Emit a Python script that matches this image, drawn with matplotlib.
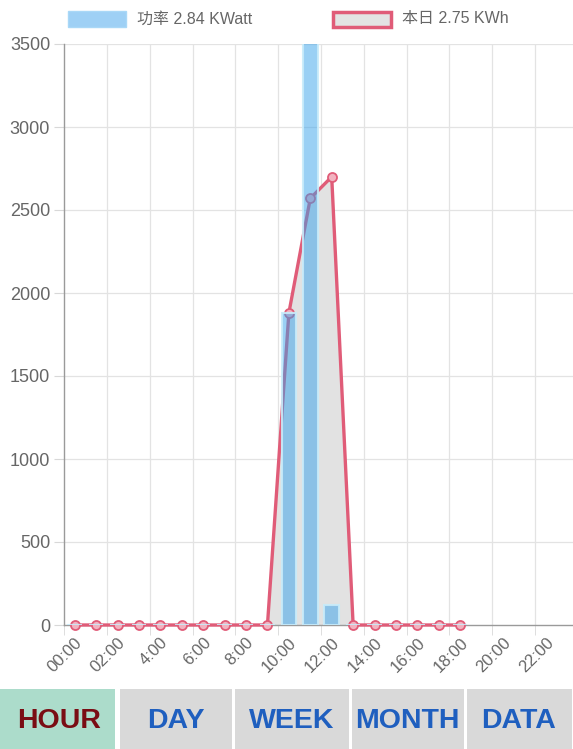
import matplotlib.pyplot as plt
from matplotlib.patches import Rectangle

# Daten
hours = list(range(19))
energy = [0, 0, 0, 0, 0, 0, 0, 0, 0, 0, 1880, 2570, 2700, 0, 0, 0, 0, 0, 0]
power = [0, 0, 0, 0, 0, 0, 0, 0, 0, 0, 1880, 3700, 120, 0, 0, 0, 0, 0, 0]
tick_pos = [0, 2, 4, 6, 8, 10, 12, 14, 16, 18, 20, 22]
tick_labels = ["00:00", "02:00", "4:00", "6:00", "8:00", "10:00", "12:00",
               "14:00", "16:00", "18:00", "20:00", "22:00"]
legend_labels = ["功率 2.84 KWatt", "本日 2.75 KWh"]
buttons = ["HOUR", "DAY", "WEEK", "MONTH", "DATA"]

FONT = ["Liberation Sans", "Noto Sans CJK SC", "DejaVu Sans"]
plt.rcParams["font.family"] = FONT

W, H = 573, 749
fig = plt.figure(figsize=(W / 100, H / 100), dpi=100)

# Achse (rechts etwas abgeschnitten wie im Screenshot)
left, right, top, bottom = 64, 578, 44, 625
ax = fig.add_axes([left / W, 1 - bottom / H, (right - left) / W, (bottom - top) / H])

line_c = "#e05c78"
ax.fill_between(hours, energy, 0, color="#e2e2e2", zorder=1, lw=0)
ax.plot(hours, energy, color=line_c, lw=2.4, zorder=4, clip_on=False,
        marker="o", markersize=6.5, markerfacecolor="#f2b3c0",
        markeredgecolor=line_c, markeredgewidth=1.3)
ax.bar(hours, power, width=0.68, color=(54 / 255, 162 / 255, 235 / 255, 0.5),
       edgecolor=(200 / 255, 235 / 255, 250 / 255, 0.9), linewidth=1.5, zorder=5)

ax.set_xlim(-0.5, 23.5)
ax.set_ylim(0, 3500)
ax.set_yticks(range(0, 3501, 500))
ax.set_xticks(tick_pos)
ax.set_xticklabels(tick_labels, rotation=45, ha="right", va="top",
                   rotation_mode="anchor")
ax.set_xticks([p - 0.5 for p in tick_pos], minor=True)

ax.grid(False)
for y in range(500, 3501, 500):
    ax.axhline(y, color="#e3e3e3", lw=0.9, zorder=0)
for x in tick_pos[1:]:
    ax.axvline(x - 0.5, color="#e3e3e3", lw=0.9, zorder=0)

ax.tick_params(axis="y", length=7, color="#d8d8d8", labelcolor="#666666",
               labelsize=13, pad=3)
ax.tick_params(axis="x", which="major", length=0, labelcolor="#666666",
               labelsize=12, pad=7)
ax.tick_params(axis="x", which="minor", length=7, color="#d8d8d8")
for s in ["top", "right"]:
    ax.spines[s].set_visible(False)
for s in ["left", "bottom"]:
    ax.spines[s].set_color("#9a9a9a")
    ax.spines[s].set_linewidth(1.0)
    ax.spines[s].set_zorder(3)

# Legende oben
def px(x, y):
    return x / W, 1 - y / H

fig.patches.append(Rectangle(px(68, 27), 58 / W, 16 / H, transform=fig.transFigure,
                             facecolor="#9ed0f5", edgecolor="#a9d8f7", lw=1))
fig.text(*px(137, 19), legend_labels[0], color="#666666", fontsize=11.5,
         va="center", ha="left", family=FONT)
fig.patches.append(Rectangle(px(333, 27), 58 / W, 15 / H, transform=fig.transFigure,
                             facecolor="#e3e3e3", edgecolor=line_c, lw=2.5))
fig.text(*px(402, 19), legend_labels[1], color="#666666", fontsize=11.5,
         va="center", ha="left", family=FONT)

# Knöpfe unten
edges = [0, 118, 233, 350, 465, 573]
for i, name in enumerate(buttons):
    x0, x1 = edges[i], edges[i + 1]
    bg = "#acdccb" if i == 0 else "#d9d9d9"
    fig.patches.append(Rectangle(px(x0 + (2 if i else 0), 749), (x1 - x0 - 3) / W, 60 / H,
                                 transform=fig.transFigure, facecolor=bg, lw=0))
    fig.text(*px((x0 + x1) / 2, 721), name, fontsize=20.5, fontweight="bold",
             color="#7a0d14" if i == 0 else "#1f5fbf", ha="center", va="center")

fig.savefig("out.png", dpi=100)
